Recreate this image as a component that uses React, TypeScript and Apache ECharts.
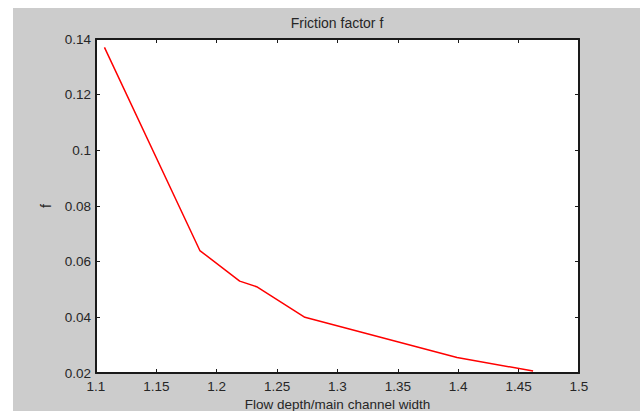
import React, { useEffect, useRef } from "react";
import * as echarts from "echarts";

const ratio = [1.107, 1.186, 1.219, 1.233, 1.273, 1.399, 1.462];
const friction = [0.137, 0.064, 0.053, 0.051, 0.04, 0.0256, 0.0207];
const titleText = "Friction factor f";
const xName = "Flow depth/main channel width";
const yName = "f";

const FONT = "Liberation Sans, Arial, sans-serif";
const TXT = "#262626";
const AX = "#1a1a1a";

export default function App() {
  const ref = useRef<HTMLDivElement>(null);
  useEffect(() => {
    if (!ref.current) return;
    const chart = echarts.init(ref.current, null, { renderer: "svg" });
    const tick = { show: true, inside: true, length: 4, lineStyle: { color: AX, width: 1 } };
    const line = { show: true, onZero: false, lineStyle: { color: AX, width: 2 } };
    const xBase = { type: "value", min: 1.1, max: 1.5, interval: 0.05, splitLine: { show: false }, axisLine: line, axisTick: tick };
    const yBase = { type: "value", min: 0.02, max: 0.14, interval: 0.02, splitLine: { show: false }, axisLine: line, axisTick: tick };
    chart.setOption({
      animation: false,
      backgroundColor: "#ffffff",
      graphic: [
        { type: "rect", z: -10, silent: true, shape: { x: 13, y: 8, width: 627, height: 403 }, style: { fill: "#cccccc" } },
        { type: "rect", z: -9, silent: true, shape: { x: 96, y: 39, width: 483, height: 334 }, style: { fill: "#ffffff" } },
      ],
      title: {
        text: titleText,
        left: 337,
        textAlign: "center",
        top: 16,
        padding: 0,
        textStyle: { fontFamily: FONT, fontSize: 14, fontWeight: "normal", color: TXT },
      },
      grid: { left: 96, right: 61, top: 39, bottom: 38, containLabel: false, outerBoundsMode: "none" },
      xAxis: [
        {
          ...xBase,
          position: "bottom",
          name: xName,
          nameLocation: "middle",
          nameGap: 17,
          nameTextStyle: { fontFamily: FONT, fontSize: 13.5, color: TXT, lineHeight: 14 },
          axisLabel: { show: true, margin: 6, fontFamily: FONT, fontSize: 13.5, color: TXT },
        },
        { ...xBase, position: "top", axisLabel: { show: false } },
      ],
      yAxis: [
        {
          ...yBase,
          position: "left",
          name: yName,
          nameLocation: "middle",
          nameGap: 43,
          nameTextStyle: { fontFamily: FONT, fontSize: 14, color: TXT },
          axisLabel: { show: true, margin: 5, fontFamily: FONT, fontSize: 13.5, color: TXT },
        },
        { ...yBase, position: "right", axisLabel: { show: false } },
      ],
      series: [
        {
          type: "line",
          xAxisIndex: 0,
          yAxisIndex: 0,
          data: ratio.map((r, i) => [r, friction[i]]),
          showSymbol: false,
          symbol: "none",
          lineStyle: { color: "#ff0000", width: 1.5 },
          itemStyle: { color: "#ff0000" },
        },
      ],
    });
    return () => chart.dispose();
  }, []);
  return <div ref={ref} style={{ position: "absolute", left: 0, top: 0, width: 640, height: 411 }} />;
}
